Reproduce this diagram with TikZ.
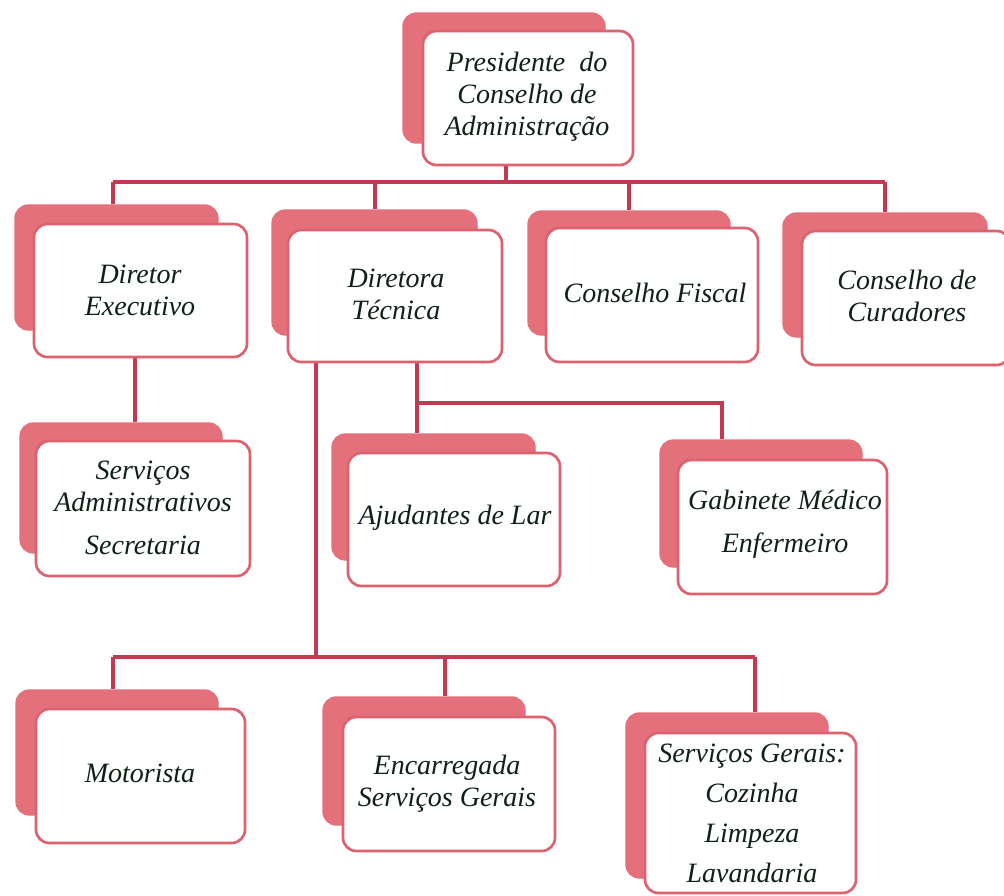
\documentclass[tikz,border=0pt]{standalone}
\usepackage{fontspec}
\setmainfont{Liberation Serif}
\usetikzlibrary{fit}
\definecolor{shadowc}{RGB}{228,112,124}
\definecolor{edgec}{RGB}{220,98,112}
\definecolor{linec}{RGB}{196,56,82}
\definecolor{textc}{RGB}{16,32,22}
\pgfdeclarelayer{back}
\pgfdeclarelayer{lines}
\pgfsetlayers{back,lines,main}
\tikzset{
  shadowbox/.style={fill=shadowc, draw=shadowc, line width=1pt, rounded corners=10pt, inner sep=0pt},
  wbox/.style={fill=white, draw=edgec, line width=2pt, rounded corners=10pt, inner sep=0pt},
  txt/.style={text=textc, align=center, font=\fontsize{21}{24}\selectfont\itshape, inner sep=0pt},
  conn/.style={draw=linec, line width=2.8pt}
}
\newcommand{\orgbox}[9]{%
  \node[shadowbox, fit={(#2,#3)(#4,#5)}] (#1S) {};
  \node[wbox, fit={(#6,#7)(#8,#9)}] (#1) {};
}
\begin{document}
\begin{tikzpicture}[x=0.75pt, y=-0.75pt]
\begin{pgfonlayer}{back}
\fill[white] (0,0) rectangle (1004,896);
\end{pgfonlayer}
\useasboundingbox (0,0) rectangle (1004,896);

% boxes
\orgbox{pres}{403}{13}{605}{143}{423}{31}{633}{165}
\node[txt] (presT) at (527,97) {Presidente\ \ do\\Conselho de\\Administração};

\orgbox{dexec}{15}{205}{218}{330}{34}{224}{247}{357}
\node[txt] (dexecT) at (140,290) {Diretor\\Executivo};

\orgbox{dtec}{272}{210}{477}{335}{288}{230}{502}{362}
\node[txt] (dtecT) at (396,294) {Diretora\\Técnica};

\orgbox{fiscal}{528}{211}{730}{335}{546}{228}{758}{362}
\node[txt] (fiscalT) at (655,293) {Conselho Fiscal};

\orgbox{cur}{783}{213}{987}{337}{802}{231}{1010}{365}
\node[txt] (curT) at (907,296) {Conselho de\\Curadores};

\orgbox{sadm}{20}{423}{222}{553}{36}{441}{250}{576}
\node[txt] (sadmT) at (143,508) {Serviços\\Administrativos\\[8pt]Secretaria};

\orgbox{ajud}{332}{434}{535}{560}{348}{453}{560}{586}
\node[txt] (ajudT) at (455,518) {Ajudantes de Lar};

\orgbox{gab}{660}{440}{862}{567}{678}{460}{887}{594}
\node[txt] (gabT) at (785,524) {Gabinete Médico\\[8pt]Enfermeiro};

\orgbox{mot}{16}{690}{218}{815}{36}{709}{245}{843}
\node[txt] (motT) at (140,773) {Motorista};

\orgbox{enc}{323}{697}{525}{825}{343}{717}{555}{851}
\node[txt] (encT) at (447,784) {Encarregada\\Serviços Gerais};

\orgbox{sg}{626}{713}{828}{878}{645}{733}{856}{893}
\node[txt] (sgT) at (752,813) {Serviços Gerais:\\[6pt]Cozinha\\[6pt]Limpeza\\[6pt]Lavandaria};

% connectors
\begin{pgfonlayer}{lines}
\coordinate (tb) at (506,182);
\coordinate (t1) at (113,182);
\coordinate (t2) at (375,182);
\coordinate (t3) at (629,182);
\coordinate (t4) at (885,182);
\draw[conn] (tb |- pres.south) -- (tb);
\draw[conn] (t1) -- (t4);
\draw[conn] (t1) -- (t1 |- dexecS.north);
\draw[conn] (t2) -- (t2 |- dtecS.north);
\draw[conn] (t3) -- (t3 |- fiscalS.north);
\draw[conn] (t4) -- (t4 |- curS.north);

\coordinate (de) at (135,400);
\draw[conn] (de |- dexec.south) -- (de |- sadmS.north);

\coordinate (m1) at (417,403);
\coordinate (m2) at (722,403);
\draw[conn] (m1 |- dtec.south) -- (m1 |- ajudS.north);
\draw[conn] (m1) -- (m2) -- (m2 |- gabS.north);

\coordinate (bv) at (316,657);
\coordinate (b1) at (113,657);
\coordinate (b2) at (445,657);
\coordinate (b3) at (755,657);
\draw[conn] (bv |- dtec.south) -- (bv);
\draw[conn] (b1) -- (b3);
\draw[conn] (b1) -- (b1 |- motS.north);
\draw[conn] (b2) -- (b2 |- encS.north);
\draw[conn] (b3) -- (b3 |- sgS.north);
\end{pgfonlayer}
\end{tikzpicture}
\end{document}
